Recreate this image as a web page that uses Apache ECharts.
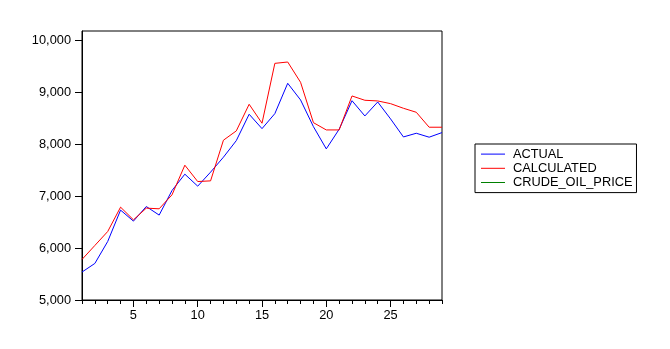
<!DOCTYPE html>
<html>
<head>
<meta charset="utf-8">
<script src="https://cdn.jsdelivr.net/npm/echarts@6/dist/echarts.min.js"></script>
<style>html,body{margin:0;padding:0;background:#fff}#c{width:670px;height:349px}</style>
</head>
<body>
<div id="c"></div>
<script>
const categories = ['1','2','3','4','5','6','7','8','9','10','11','12','13','14','15','16','17','18','19','20','21','22','23','24','25','26','27','28','29'];
const actual = [5538,5704,6127,6731,6519,6800,6635,7108,7423,7192,7462,7750,8069,8577,8300,8589,9173,8852,8338,7910,8288,8838,8544,8813,8487,8140,8211,8135,8224];
const calculated = [5781,6050,6319,6788,6544,6769,6756,7025,7596,7281,7294,8077,8256,8769,8404,9557,9583,9192,8415,8275,8275,8929,8846,8833,8781,8692,8615,8327,8327];
const crudeOilPrice = [];
const yTicks = [5000,6000,7000,8000,9000,10000];

const font = 'Liberation Sans, Arial, sans-serif';
const fs = 12.8;
const chart = echarts.init(document.getElementById('c'), null, {renderer:'canvas'});
chart.setOption({
  animation: false,
  backgroundColor: '#fff',
  textStyle: {fontFamily: font},
  grid: {left: 82, right: 228, top: 31, bottom: 49, show: true, borderColor: '#000', borderWidth: 1, containLabel: false},
  legend: {
    orient: 'vertical', left: 475, top: 144,
    padding: [3, 4, 3, 6],
    borderColor: '#000', borderWidth: 1,
    itemGap: 0, itemWidth: 24, itemHeight: 1, icon: 'rect',
    textStyle: {fontFamily: font, fontSize: fs, color: '#000', lineHeight: 14.2, padding: [0,0,0,3]},
    data: ['ACTUAL','CALCULATED','CRUDE_OIL_PRICE']
  },
  xAxis: [{
    type: 'category', data: categories, boundaryGap: false, position: 'bottom',
    axisLine: {lineStyle: {color: '#000', width: 1}},
    axisTick: {show: true, length: 4, interval: 0, lineStyle: {color: '#000'}},
    axisLabel: {interval: function(i){return i % 5 === 4;}, margin: 9, color: '#000', fontSize: fs, fontFamily: font},
    splitLine: {show: false}
  },{
    type: 'category', data: categories, boundaryGap: false, position: 'bottom',
    axisLine: {show: false},
    axisTick: {show: true, length: 7, interval: function(i){return i % 5 === 4;}, lineStyle: {color: '#000'}},
    axisLabel: {show: false},
    splitLine: {show: false}
  }],
  yAxis: {
    type: 'value', min: 5000, max: 10180, interval: 1000,
    axisLine: {show: true, lineStyle: {color: '#000'}},
    axisTick: {show: true, length: 7, customValues: yTicks, lineStyle: {color: '#000'}},
    axisLabel: {customValues: yTicks, margin: 11, color: '#000', fontSize: fs, fontFamily: font,
      formatter: function(v){return Number(v).toLocaleString('en-US');}},
    splitLine: {show: false}
  },
  series: [
    {name: 'ACTUAL', type: 'line', data: actual, showSymbol: false, symbol: 'none', lineStyle: {color: '#0000ff', width: 1}, itemStyle: {color: '#0000ff'}},
    {name: 'CALCULATED', type: 'line', data: calculated, showSymbol: false, symbol: 'none', lineStyle: {color: '#ff0000', width: 1}, itemStyle: {color: '#ff0000'}},
    {name: 'CRUDE_OIL_PRICE', type: 'line', data: crudeOilPrice, showSymbol: false, symbol: 'none', lineStyle: {color: '#008000', width: 1}, itemStyle: {color: '#008000'}}
  ]
});
</script>
</body>
</html>
